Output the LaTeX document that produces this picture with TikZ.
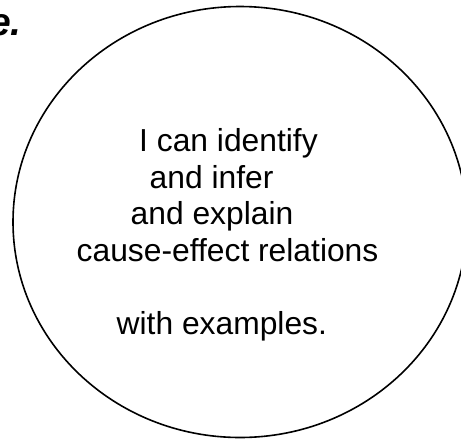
\documentclass[tikz,border=0pt]{standalone}
\usepackage{fontspec}
\setmainfont{Liberation Sans}
\begin{document}
\begin{tikzpicture}[x=1pt,y=-1pt,
  bodytext/.style={anchor=base west, inner sep=0pt, font=\fontsize{31.8}{36}\selectfont},
  titletext/.style={anchor=base east, inner sep=0pt, font=\bfseries\itshape\fontsize{39}{42}\selectfont}]
\useasboundingbox (0,0) rectangle (461,440);
\clip (0,0) rectangle (461,440);
\fill[white] (0,0) rectangle (461,440);
\node[titletext] (title) at (22,35) {e.};
\draw[line width=1.6pt] (240,222) ellipse [x radius=227, y radius=215.5];
\node[bodytext] (l1) at (139,151.7) {I can identify};
\node[bodytext] (l2) at (149.5,188.3) {and infer};
\node[bodytext] (l3) at (130.5,224.9) {and explain};
\node[bodytext] (l4) at (76.5,261.5) {cause-effect relations};
\node[bodytext] (l5) at (116.5,334.7) {with examples.};
\end{tikzpicture}
\end{document}
